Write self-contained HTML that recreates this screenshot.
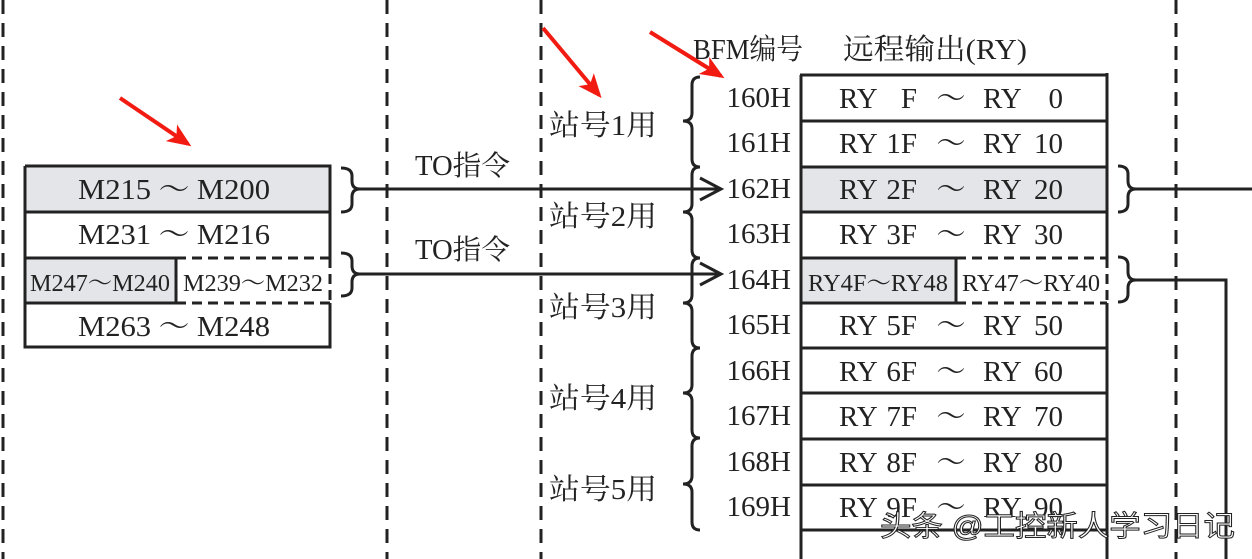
<!DOCTYPE html>
<html><head><meta charset="utf-8"><style>
html,body{margin:0;padding:0;background:#fff;}
svg{display:block}
text{font-family:"Liberation Serif","Noto Serif CJK SC",serif;fill:#222;}
</style></head><body>
<svg width="1252" height="559" viewBox="0 0 1252 559" xmlns="http://www.w3.org/2000/svg">
<defs>
<marker id="ah" markerWidth="6" markerHeight="5" refX="5" refY="2.5" orient="auto" markerUnits="strokeWidth">
<path d="M0,0 L6,2.5 L0,5 L1.5,2.5 Z" fill="#f21b12"/>
</marker>
</defs>
<g stroke="#222" stroke-width="3" stroke-dasharray="14 9">
<line x1="3" y1="0" x2="3" y2="559"/>
<line x1="387" y1="0" x2="387" y2="559"/>
<line x1="541" y1="0" x2="541" y2="559"/>
<line x1="1176" y1="0" x2="1176" y2="559"/>
</g>

<rect x="25" y="166" width="305" height="46" fill="#e3e5e9"/>
<rect x="25" y="258" width="151" height="45" fill="#e3e5e9"/>
<g stroke="#222" stroke-width="3" fill="none">
<path d="M25 166 H330 V258"/>
<path d="M25 166 V347 H330 V303"/>
<line x1="25" y1="212" x2="331" y2="212"/>
<line x1="25" y1="258" x2="176" y2="258"/>
<line x1="176" y1="258" x2="176" y2="303"/>
<line x1="25" y1="303" x2="176" y2="303"/>
</g>
<g stroke="#222" stroke-width="3" stroke-dasharray="10 6" fill="none">
<line x1="176" y1="258" x2="330" y2="258"/>
<line x1="330" y1="258" x2="330" y2="303"/>
<line x1="176" y1="303" x2="330" y2="303"/>
</g>
<g font-size="29">
<text x="78" y="199" textLength="192" lengthAdjust="spacingAndGlyphs">M215 ～ M200</text>
<text x="78" y="244" textLength="192" lengthAdjust="spacingAndGlyphs">M231 ～ M216</text>
<text x="78" y="336" textLength="192" lengthAdjust="spacingAndGlyphs">M263 ～ M248</text>
</g>
<g font-size="24">
<text x="100" y="291" text-anchor="middle" textLength="140" lengthAdjust="spacingAndGlyphs">M247～M240</text>
<text x="253" y="291" text-anchor="middle" textLength="140" lengthAdjust="spacingAndGlyphs">M239～M232</text>
</g>

<g stroke="#222" stroke-width="3" fill="none">
<path d="M341 168 Q352 168 352 176 L352 181 Q352 189 360 189 Q352 189 352 197 L352 204 Q352 212 341 212"/>
<path d="M341 253 Q352 253 352 261 L352 266 Q352 274 360 274 Q352 274 352 282 L352 288 Q352 296 341 296"/>
<line x1="360" y1="189" x2="721" y2="189"/>
<line x1="360" y1="274" x2="721" y2="274"/>
<path d="M700 178 L721 189 L700 200"/>
<path d="M700 263 L721 274 L700 285"/>
</g>
<g font-size="28">
<text x="415" y="175" textLength="95" lengthAdjust="spacingAndGlyphs">TO指令</text>
<text x="415" y="259" textLength="95" lengthAdjust="spacingAndGlyphs">TO指令</text>
</g>

<g font-size="29">
<text x="549" y="135" textLength="108" lengthAdjust="spacingAndGlyphs">站号1用</text>
<text x="549" y="226" textLength="108" lengthAdjust="spacingAndGlyphs">站号2用</text>
<text x="549" y="317" textLength="108" lengthAdjust="spacingAndGlyphs">站号3用</text>
<text x="549" y="408" textLength="108" lengthAdjust="spacingAndGlyphs">站号4用</text>
<text x="549" y="499" textLength="108" lengthAdjust="spacingAndGlyphs">站号5用</text>
</g>
<g stroke="#222" stroke-width="3" fill="none">
<path d="M700 77 Q692 77 692 85 L692 113 Q692 121 683 121 Q692 121 692 129 L692 159 Q692 167 700 167"/>
<path d="M700 167 Q692 167 692 175 L692 204 Q692 212 683 212 Q692 212 692 220 L692 250 Q692 258 700 258"/>
<path d="M700 258 Q692 258 692 266 L692 295 Q692 303 683 303 Q692 303 692 311 L692 340 Q692 348 700 348"/>
<path d="M700 348 Q692 348 692 356 L692 385 Q692 393 683 393 Q692 393 692 401 L692 430 Q692 438 700 438"/>
<path d="M700 438 Q692 438 692 446 L692 476 Q692 484 683 484 Q692 484 692 492 L692 522 Q692 530 700 530"/>
</g>

<text x="693" y="59" font-size="29" textLength="110" lengthAdjust="spacingAndGlyphs">BFM编号</text>
<text x="843" y="59" font-size="29" textLength="184" lengthAdjust="spacingAndGlyphs">远程输出(RY)</text>

<rect x="802" y="167" width="305" height="45" fill="#e3e5e9"/>
<rect x="802" y="258" width="154" height="45" fill="#e3e5e9"/>
<g stroke="#222" stroke-width="3" fill="none">
<line x1="801" y1="75" x2="801" y2="559"/>
<line x1="1107" y1="73" x2="1107" y2="258"/>
<line x1="1107" y1="303" x2="1107" y2="559"/>
<line x1="800" y1="75" x2="1108" y2="75"/>
<line x1="800" y1="121" x2="1108" y2="121"/>
<line x1="800" y1="167" x2="1108" y2="167"/>
<line x1="800" y1="212" x2="1108" y2="212"/>
<line x1="800" y1="258" x2="956" y2="258"/>
<line x1="956" y1="258" x2="956" y2="303"/>
<line x1="800" y1="303" x2="956" y2="303"/>
<line x1="800" y1="348" x2="1108" y2="348"/>
<line x1="800" y1="393" x2="1108" y2="393"/>
<line x1="800" y1="439" x2="1108" y2="439"/>
<line x1="800" y1="485" x2="1108" y2="485"/>
<line x1="800" y1="530" x2="1108" y2="530"/>
</g>
<g stroke="#222" stroke-width="3" stroke-dasharray="10 6" fill="none">
<line x1="956" y1="258" x2="1107" y2="258"/>
<line x1="1107" y1="258" x2="1107" y2="303"/>
<line x1="956" y1="303" x2="1107" y2="303"/>
</g>
<g font-size="29" text-anchor="end">
<text x="791" y="107">160H</text>
<text x="791" y="152">161H</text>
<text x="791" y="198">162H</text>
<text x="791" y="243">163H</text>
<text x="791" y="289">164H</text>
<text x="791" y="334">165H</text>
<text x="791" y="380">166H</text>
<text x="791" y="425">167H</text>
<text x="791" y="471">168H</text>
<text x="791" y="516">169H</text>
</g>
<g font-size="29">
<g><text x="839" y="108">RY</text><text x="917" y="108" text-anchor="end">F</text><text x="951" y="108" text-anchor="middle">～</text><text x="983" y="108">RY</text><text x="1063" y="108" text-anchor="end">0</text></g>
<g><text x="839" y="153">RY</text><text x="917" y="153" text-anchor="end">1F</text><text x="951" y="153" text-anchor="middle">～</text><text x="983" y="153">RY</text><text x="1063" y="153" text-anchor="end">10</text></g>
<g><text x="839" y="199">RY</text><text x="917" y="199" text-anchor="end">2F</text><text x="951" y="199" text-anchor="middle">～</text><text x="983" y="199">RY</text><text x="1063" y="199" text-anchor="end">20</text></g>
<g><text x="839" y="244">RY</text><text x="917" y="244" text-anchor="end">3F</text><text x="951" y="244" text-anchor="middle">～</text><text x="983" y="244">RY</text><text x="1063" y="244" text-anchor="end">30</text></g>
<g><text x="839" y="335">RY</text><text x="917" y="335" text-anchor="end">5F</text><text x="951" y="335" text-anchor="middle">～</text><text x="983" y="335">RY</text><text x="1063" y="335" text-anchor="end">50</text></g>
<g><text x="839" y="381">RY</text><text x="917" y="381" text-anchor="end">6F</text><text x="951" y="381" text-anchor="middle">～</text><text x="983" y="381">RY</text><text x="1063" y="381" text-anchor="end">60</text></g>
<g><text x="839" y="426">RY</text><text x="917" y="426" text-anchor="end">7F</text><text x="951" y="426" text-anchor="middle">～</text><text x="983" y="426">RY</text><text x="1063" y="426" text-anchor="end">70</text></g>
<g><text x="839" y="472">RY</text><text x="917" y="472" text-anchor="end">8F</text><text x="951" y="472" text-anchor="middle">～</text><text x="983" y="472">RY</text><text x="1063" y="472" text-anchor="end">80</text></g>
<g><text x="839" y="517">RY</text><text x="917" y="517" text-anchor="end">9F</text><text x="951" y="517" text-anchor="middle">～</text><text x="983" y="517">RY</text><text x="1063" y="517" text-anchor="end">90</text></g>
</g>
<g font-size="24">
<text x="878" y="291" text-anchor="middle" textLength="140" lengthAdjust="spacingAndGlyphs">RY4F～RY48</text>
<text x="1031" y="291" text-anchor="middle" textLength="138" lengthAdjust="spacingAndGlyphs">RY47～RY40</text>
</g>

<g stroke="#222" stroke-width="3" fill="none">
<path d="M1118 166 Q1128 166 1128 174 L1128 181 Q1128 189 1136 189 Q1128 189 1128 197 L1128 204 Q1128 212 1118 212"/>
<path d="M1118 257 Q1128 257 1128 265 L1128 272 Q1128 280 1136 280 Q1128 280 1128 288 L1128 294 Q1128 302 1118 302"/>
<line x1="1136" y1="189" x2="1252" y2="189"/>
<path d="M1136 280 H1226 V559"/>
</g>

<g stroke="#f21b12" stroke-width="4" fill="none" marker-end="url(#ah)">
<line x1="120" y1="98" x2="188" y2="144"/>
<line x1="543" y1="28" x2="599" y2="95"/>
<line x1="650" y1="32" x2="721" y2="76"/>
</g>

<text x="880" y="536" font-size="29" textLength="355" lengthAdjust="spacingAndGlyphs" style="font-family:'Liberation Sans','Noto Sans CJK SC',sans-serif;fill:#fff;stroke:#222;stroke-width:1px;">头条 @工控新人学习日记</text>
</svg>
</body></html>
